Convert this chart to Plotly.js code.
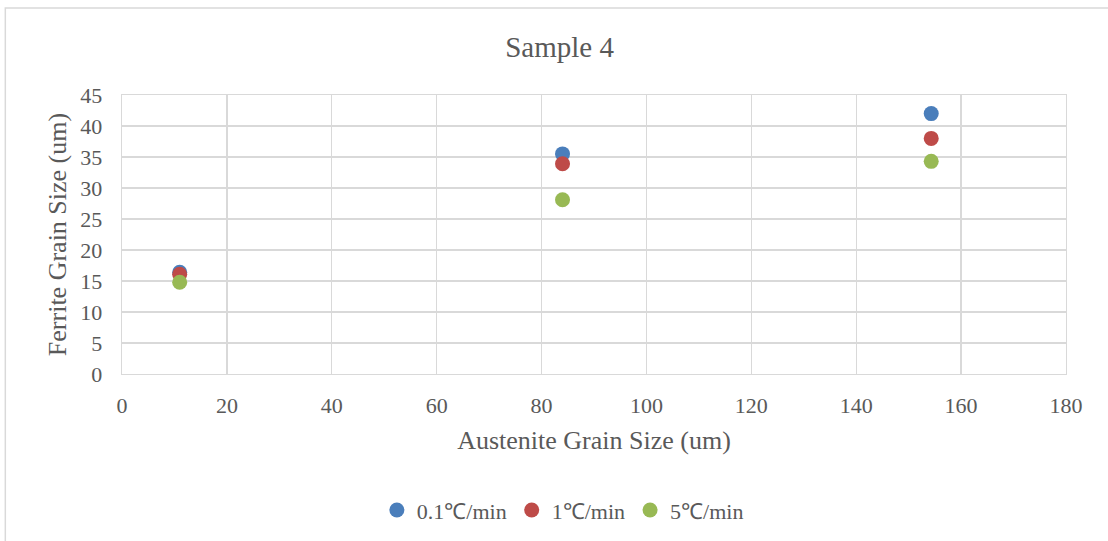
<!DOCTYPE html>
<html>
<head>
<meta charset="utf-8">
<script src="https://cdn.plot.ly/plotly-3.0.1.min.js"></script>
<style>html,body{margin:0;padding:0;background:#fff;}#chart{width:1108px;height:541px;}</style>
</head>
<body>
<div id="chart"></div>
<script>
const austenite = [11, 84, 154.3];
const series1Name = "0.1\u2103/min";
const series1 = [16.4, 35.5, 42.0];
const series2Name = "1\u2103/min";
const series2 = [16.1, 33.9, 38.0];
const series3Name = "5\u2103/min";
const series3 = [14.8, 28.1, 34.3];
const colors = ["#4a7ebb", "#be4b48", "#98b954"];

const fam = "'Liberation Serif', 'Times New Roman', serif";
function f(size) { return {family: fam, color: "#595959", size: size}; }
function mk(name, y, c) {
  return {x: austenite, y: y, name: name, type: "scatter", mode: "markers",
    marker: {color: c, size: 15}, cliponaxis: false};
}
const data = [mk(series1Name, series1, colors[0]), mk(series2Name, series2, colors[1]), mk(series3Name, series3, colors[2])];
const layout = {
  width: 1108, height: 541,
  margin: {l: 122, r: 42, t: 95, b: 167},
  paper_bgcolor: "#fff", plot_bgcolor: "#fff",
  font: f(22),
  title: {text: "Sample 4", font: f(29), xref: "container", x: 0.505, xanchor: "center", y: 0.913, yanchor: "middle"},
  xaxis: {range: [0, 180], dtick: 20, tick0: 0, showgrid: true, gridcolor: "#d9d9d9", gridwidth: 1.3,
    showline: true, linecolor: "#d9d9d9", linewidth: 1.3, mirror: true, zeroline: false, ticks: "",
    tickfont: f(22), ticklabelstandoff: 11,
    title: {text: "Austenite Grain Size (um)", font: f(26), standoff: 14}},
  yaxis: {range: [0, 45], dtick: 5, tick0: 0, showgrid: true, gridcolor: "#d9d9d9", gridwidth: 1.3,
    showline: true, linecolor: "#d9d9d9", linewidth: 1.3, mirror: true, zeroline: false, ticks: "",
    tickfont: f(22), ticklabelstandoff: 14,
    title: {text: "Ferrite Grain Size (um)", font: f(26), standoff: 6}},
  legend: {orientation: "h", xref: "container", yref: "container", x: 0.508, xanchor: "center", y: 0.057, yanchor: "middle",
    font: f(22), itemwidth: 30, tracegroupgap: 0},
  showlegend: true,
  shapes: [{type: "rect", xref: "paper", yref: "paper", x0: -0.1236, x1: 1.2, y0: -0.8, y1: 1.312,
    line: {color: "#d9d9d9", width: 1.5}, layer: "below"}]
};
Plotly.newPlot("chart", data, layout, {staticPlot: true, displayModeBar: false});
</script>
</body>
</html>
